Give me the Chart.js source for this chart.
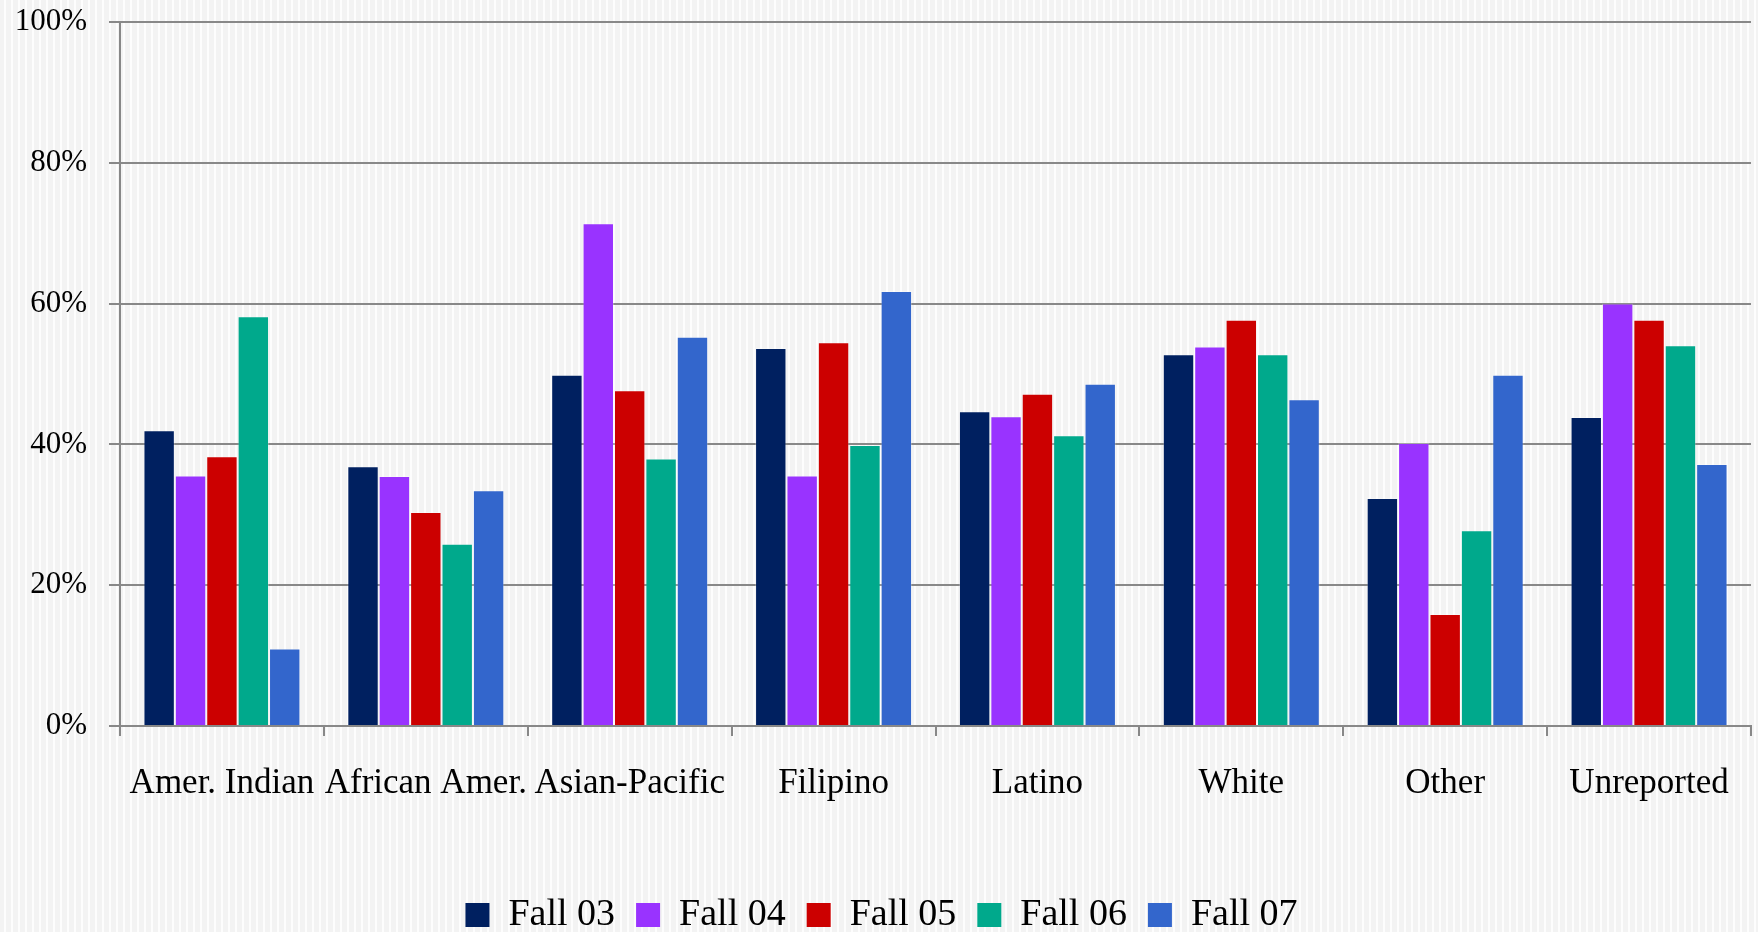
<!DOCTYPE html>
<html>
<head>
<meta charset="utf-8">
<script src="https://cdn.jsdelivr.net/npm/chart.js@4/dist/chart.umd.min.js"></script>
<style>
  html, body { margin: 0; padding: 0; }
  body {
    width: 1758px; height: 932px; overflow: hidden;
    background-color: #f3f3f3;
    background-image:
      repeating-linear-gradient(90deg, rgba(255,255,255,0) 0px, rgba(255,255,255,0) 4px, rgba(255,255,255,0.85) 4px, rgba(255,255,255,0.85) 6px, rgba(255,255,255,0) 6px, rgba(255,255,255,0) 7px),
      repeating-linear-gradient(0deg, rgba(243,243,243,0) 0px, rgba(243,243,243,0) 4px, rgba(243,243,243,0.9) 4px, rgba(243,243,243,0.9) 5px);
  }
  #wrap { position: absolute; left: 0; top: 0; width: 1758px; height: 932px; }
</style>
</head>
<body>
<div id="wrap"><canvas id="chart" width="1758" height="932"></canvas></div>
<script>
// Enrolment share by ethnic group, fall terms 2003-2007
const categories = ["Amer. Indian", "African Amer.", "Asian-Pacific", "Filipino", "Latino", "White", "Other", "Unreported"];
const seriesNames = ["Fall 03", "Fall 04", "Fall 05", "Fall 06", "Fall 07"];
const fall03 = [42.0, 36.9, 49.9, 53.7, 44.7, 52.8, 32.4, 43.9];
const fall04 = [35.6, 35.5, 71.4, 35.6, 44.0, 53.9, 40.2, 60.0];
const fall05 = [38.3, 30.4, 47.7, 54.5, 47.2, 57.7, 15.9, 57.7];
const fall06 = [58.2, 25.9, 38.0, 39.9, 41.3, 52.8, 27.8, 54.1];
const fall07 = [11.0, 33.5, 55.3, 61.8, 48.6, 46.4, 49.9, 37.2];
const yTicks = [0, 20, 40, 60, 80, 100];

const colors = ["#002060", "#9933FF", "#CC0000", "#00A98C", "#3366CC"];
const values = [fall03, fall04, fall05, fall06, fall07];

const serif = "'Liberation Serif', 'DejaVu Serif', serif";

new Chart(document.getElementById("chart"), {
  type: "bar",
  data: {
    labels: categories,
    datasets: seriesNames.map((name, i) => ({
      label: name,
      data: values[i],
      backgroundColor: colors[i],
      borderColor: "rgba(255,255,255,0.25)",
      borderWidth: 1,
      borderSkipped: "bottom",
      categoryPercentage: 0.77,
      barPercentage: 1.0
    }))
  },
  options: {
    responsive: false,
    animation: false,
    devicePixelRatio: 1,
    layout: { padding: { left: 12, right: 7, top: 22, bottom: -12 } },
    plugins: {
      tooltip: { enabled: false },
      legend: {
        position: "bottom",
        labels: {
          font: { family: serif, size: 38 },
          color: "#000",
          boxWidth: 24,
          boxHeight: 24,
          padding: 21,
          generateLabels(chart) {
            return chart.data.datasets.map((ds, i) => ({
              text: ds.label,
              fillStyle: ds.backgroundColor,
              strokeStyle: ds.backgroundColor,
              lineWidth: 0,
              hidden: false,
              datasetIndex: i,
              fontColor: "#000"
            }));
          }
        }
      }
    },
    scales: {
      x: {
        afterFit(axis) { axis.paddingLeft = 0; axis.paddingRight = 0; axis.height += 43; },
        grid: {
          offset: true,
          drawOnChartArea: false,
          drawTicks: true,
          tickLength: 10,
          color: "#888",
          lineWidth: 2
        },
        border: { color: "#888", width: 2 },
        ticks: {
          font: { family: serif, size: 35 },
          color: "#000",
          padding: 27,
          maxRotation: 0,
          autoSkip: false
        }
      },
      y: {
        min: 0,
        max: 100,
        afterBuildTicks(axis) { axis.ticks = yTicks.map(v => ({ value: v })); },
        afterFit(axis) { axis.paddingTop = 0; axis.paddingBottom = 0; axis.width = 108; },
        grid: {
          color: "#888",
          lineWidth: 2,
          drawTicks: true,
          tickLength: 11
        },
        border: { color: "#888", width: 2 },
        ticks: {
          font: { family: serif, size: 31 },
          color: "#000",
          padding: 22,
          callback: v => v + "%"
        }
      }
    }
  }
});
</script>
</body>
</html>
